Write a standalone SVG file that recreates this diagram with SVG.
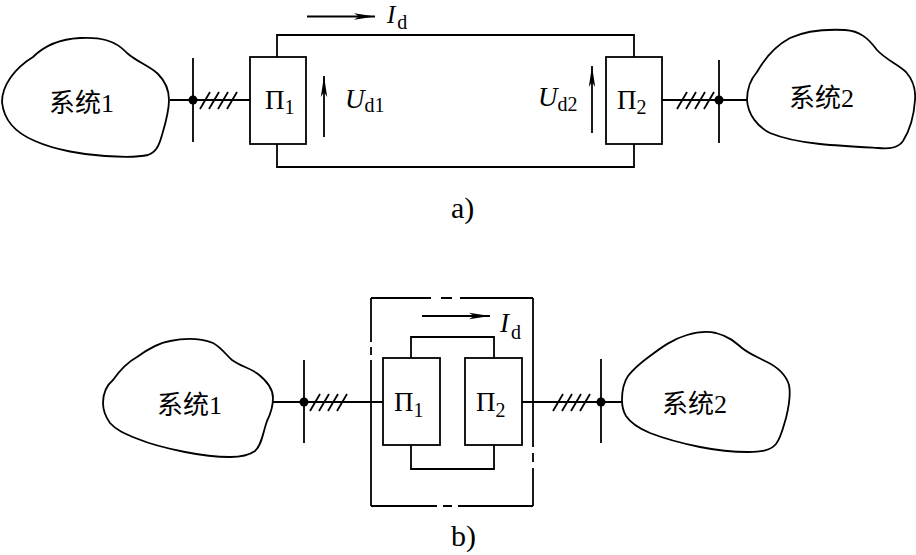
<svg xmlns="http://www.w3.org/2000/svg" width="916" height="555" viewBox="0 0 916 555">
<style>
.ln{fill:none;stroke:#000;stroke-width:1.8;stroke-linecap:butt}
.cl{fill:#fff;stroke:#000;stroke-width:1.8}
.bx{fill:#fff;stroke:#000;stroke-width:1.8}
.dot{fill:#000}
.cjk{font-family:"Liberation Serif","Noto Sans CJK SC",serif;font-size:26px;fill:#000}
.sym{font-family:"Liberation Serif",serif;font-size:27px;fill:#000}
.it{font-family:"Liberation Serif",serif;font-style:italic;font-size:27px;fill:#000}
.sub{font-family:"Liberation Serif",serif;font-size:20px;fill:#000;font-style:normal}
.cap{font-family:"Liberation Serif",serif;font-size:30px;fill:#000}
</style>
<defs>
<marker id="arr" markerUnits="userSpaceOnUse" markerWidth="22" markerHeight="8" refX="21" refY="4" orient="auto" viewBox="0 0 22 8">
<path d="M0,0.8 L21,4 L0,7.2 L5,4 Z" fill="#000"/>
</marker>
</defs>

<g id="connectors">
<path class="ln" d="M170,100 H250"/>
<path class="ln" d="M662,100 H747"/>
<path class="ln" d="M277,57 V35 H634 V57"/>
<path class="ln" d="M277,144 V167 H634 V144"/>
<path class="ln" d="M200,109 L210,92 M209,109 L219,92 M218,109 L228,92 M227,109 L237,92"/>
<path class="ln" d="M677,109 L687,92 M686,109 L696,92 M695,109 L705,92 M704,109 L714,92"/>
<path class="ln" d="M273,402 H383"/>
<path class="ln" d="M522,402 H622"/>
<path class="ln" d="M411,358 V337 H494 V358"/>
<path class="ln" d="M411,445 V469 H494 V445"/>
<path class="ln" d="M310,411 L320,394 M319,411 L329,394 M328,411 L338,394 M337,411 L347,394"/>
<path class="ln" d="M553,411 L563,394 M562,411 L572,394 M571,411 L581,394 M580,411 L590,394"/>
</g>

<g id="cloud1a">
<path class="cl" d="M2,102 C2,85 15,68 33,57 C45,45 60,39 80,38 C100,37 115,40 127,53 C137,62 150,66 158,74 C166,82 169,92 169,100 C169,112 165,125 162,135 C159,146 156,152 148,155 C135,158 120,157 105,156 C85,155 55,150 35,141 C18,134 4,122 2,102 Z"/>
<text class="cjk" x="49" y="112">系统1</text>
</g>
<g id="cloud2a">
<path class="cl" d="M747,100 C747,88 750,80 757,72 C765,58 775,46 790,38 C805,31 825,29 845,30 C860,31 868,38 877,50 C886,60 898,64 906,72 C913,80 916,88 915,100 C914,115 910,130 903,141 C898,148 890,149 878,148 C860,147 840,146 820,144 C800,142 782,138 770,133 C758,127 748,115 747,100 Z"/>
<text class="cjk" x="789" y="107">系统2</text>
</g>
<g id="bus1a">
<path class="ln" d="M193,58 V142"/>
<circle class="dot" cx="193" cy="100" r="4.5"/>
</g>
<g id="bus2a">
<path class="ln" d="M719,60 V143"/>
<circle class="dot" cx="719" cy="100" r="4.5"/>
</g>
<g id="conv1a">
<rect class="bx" x="250" y="57" width="56" height="87"/>
<text class="sym" x="265" y="109">Π<tspan class="sub" dy="5">1</tspan></text>
</g>
<g id="conv2a">
<rect class="bx" x="606" y="57" width="56" height="87"/>
<text class="sym" x="617" y="109">Π<tspan class="sub" dy="5">2</tspan></text>
</g>
<g id="labels-a">
<path class="ln" d="M307,16.5 H375" marker-end="url(#arr)"/>
<text class="it" x="387" y="23" style="font-size:25px">I<tspan class="sub" dy="6" dx="2">d</tspan></text>
<path class="ln" d="M324,137 V76" marker-end="url(#arr)"/>
<text class="it" x="345" y="108">U<tspan class="sub" dy="4">d1</tspan></text>
<path class="ln" d="M592,133 V66" marker-end="url(#arr)"/>
<text class="it" x="538" y="106">U<tspan class="sub" dy="5">d2</tspan></text>
<text class="cap" x="451" y="218">a)</text>
</g>

<g id="cloud1b">
<path class="cl" d="M103,403 C103,392 107,385 113,380 C120,370 128,362 137,357 C148,349 158,343 170,341 C185,338 200,338 213,343 C222,348 226,355 232,360 C240,366 250,368 258,374 C267,381 273,390 273,398 C273,408 270,415 267,421 C263,432 262,445 255,451 C248,456 240,457 230,457 C215,457 200,455 185,452 C165,448 150,444 138,439 C125,434 116,430 110,423 C105,416 103,410 103,403 Z"/>
<text class="cjk" x="157" y="414">系统1</text>
</g>
<g id="cloud2b">
<path class="cl" d="M622,400 C622,390 624,382 628,376 C635,367 642,362 650,356 C662,347 673,339 687,335 C697,332 707,331 716,333 C728,336 735,342 742,348 C748,353 755,356 765,361 C778,367 786,375 789,385 C791,395 789,406 786,418 C783,428 781,438 776,444 C770,451 760,452 748,452 C730,452 715,450 700,447 C680,443 663,438 650,433 C638,428 630,422 626,416 C623,411 622,405 622,400 Z"/>
<text class="cjk" x="662" y="413">系统2</text>
</g>
<g id="bus1b">
<path class="ln" d="M304,360 V443"/>
<circle class="dot" cx="304" cy="402" r="4.5"/>
</g>
<g id="bus2b">
<path class="ln" d="M601,359 V443"/>
<circle class="dot" cx="601" cy="402" r="4.5"/>
</g>
<g id="station-b">
<path class="ln" d="M371,298 H431 M441,298 H452 M460,298 H533"/>
<path class="ln" d="M371,506 H437 M443,506 H452 M458,506 H533"/>
<path class="ln" d="M371,298 V342 M371,347 V355 M371,360 V506"/>
<path class="ln" d="M533,298 V447 M533,453 V462 M533,468 V506"/>
</g>
<g id="conv1b">
<rect class="bx" x="383" y="358" width="57" height="87"/>
<text class="sym" x="394" y="411">Π<tspan class="sub" dy="6">1</tspan></text>
</g>
<g id="conv2b">
<rect class="bx" x="465" y="358" width="57" height="87"/>
<text class="sym" x="476" y="411">Π<tspan class="sub" dy="6">2</tspan></text>
</g>
<g id="labels-b">
<path class="ln" d="M422,316 H490" marker-end="url(#arr)"/>
<text class="it" x="500" y="332">I<tspan class="sub" dy="7" dx="2">d</tspan></text>
<text class="cap" x="451" y="546">b)</text>
</g>
</svg>
